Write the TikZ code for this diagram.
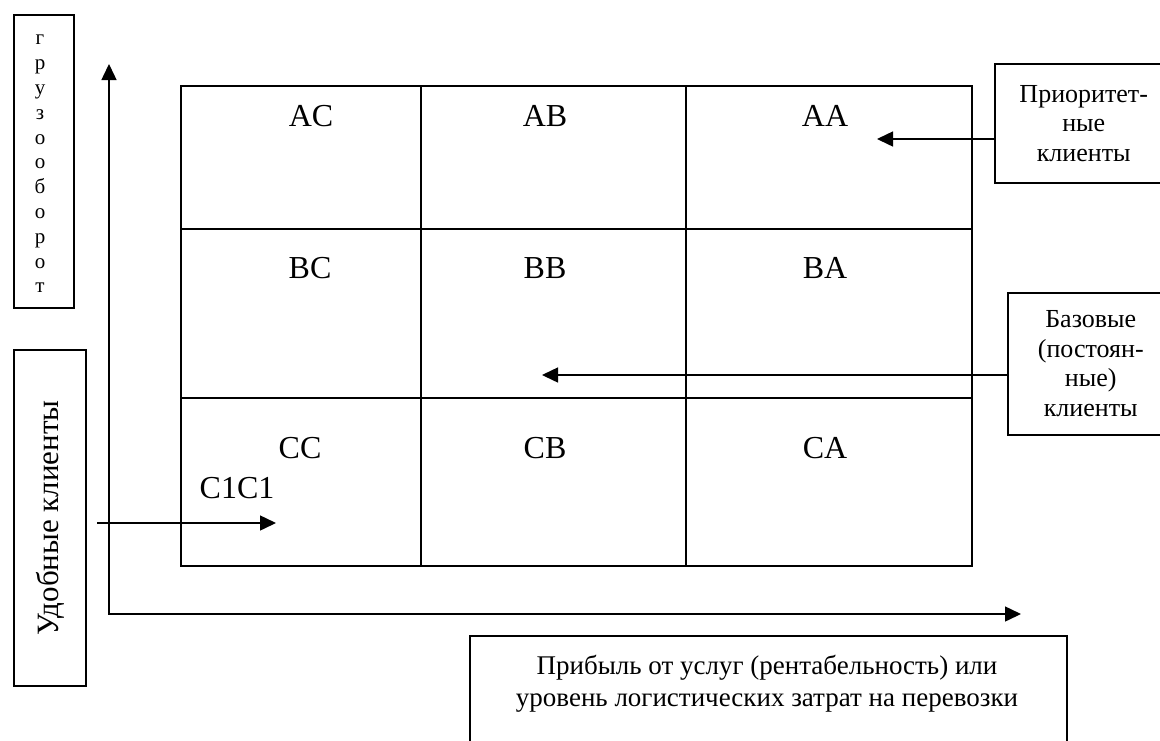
\documentclass[tikz,border=0pt]{standalone}
\usepackage{fontspec}
\setmainfont{Liberation Serif}
\usetikzlibrary{arrows.meta}
\begin{document}
\begin{tikzpicture}[x=1pt,y=-1pt,line width=1.5pt,
  tri/.tip={Triangle[length=16pt,width=15pt]},
  tip/.style={-tri},
  box/.style={draw,anchor=north west,inner sep=0pt},
  lbl/.style={font=\fontsize{32}{38}\selectfont,inner sep=0pt},
  side/.style={font=\fontsize{26}{29.5}\selectfont,align=center,inner sep=0pt}]
\useasboundingbox (0,0) rectangle (1160,740);
\fill[white] (0,0) rectangle (1160,740);
% left boxes
\node[box,minimum width=60pt,minimum height=293pt] (gb) at (13,14) {};
\node[inner sep=0pt,align=center,font=\fontsize{21}{24.8}\selectfont] (gt) at (40,164) {г\\р\\у\\з\\о\\о\\б\\о\\р\\о\\т};
\node[box,minimum width=72pt,minimum height=336pt] (ub) at (13,349) {};
\node[inner sep=0pt,rotate=90,font=\fontsize{31}{36}\selectfont] (ut) at (50,518) {Удобные клиенты};
% grid
\draw (181,86) rectangle (972,566);
\draw (421,86) -- (421,566) (686,86) -- (686,566);
\draw (181,229) -- (972,229) (181,398) -- (972,398);
\node[lbl] (ac) at (311,116) {AC};
\node[lbl] (ab) at (545,116) {AB};
\node[lbl] (aa) at (825,116) {AA};
\node[lbl] (bc) at (310,268) {BC};
\node[lbl] (bb) at (545,268) {BB};
\node[lbl] (ba) at (825,268) {BA};
\node[lbl] (cc) at (300,448) {CC};
\node[lbl] (cb) at (545,448) {CB};
\node[lbl] (ca) at (825,448) {CA};
\node[lbl] (c1) at (237,488) {C1C1};
% axes
\coordinate (ytip) at (109,64);
\coordinate (orig) at (109,614);
\coordinate (xtip) at (1021,614);
\draw[tri-tri] (ytip) -- (orig) -- (xtip);
% right boxes
\node[box,minimum width=178pt,minimum height=119pt,side] (pb) at (994,63) {Приоритет-\\ные\\клиенты};
\node[box,minimum width=166pt,minimum height=142pt,side] (bz) at (1007,292) {Базовые\\(постоян-\\ные)\\клиенты};
% bottom box
\node[box,minimum width=597pt,minimum height=140pt] (pr) at (469,635) {};
\node[inner sep=0pt,align=center,font=\fontsize{27}{32}\selectfont] (prt) at (767,684) {Прибыль от услуг (рентабельность) или\\уровень логистических затрат на перевозки};
% arrows
\coordinate (aaT) at (877,139);
\draw[tip] (pb.west |- aaT) -- (aaT);
\coordinate (bbT) at (542,375);
\draw[tip] (bz.west |- bbT) -- (bbT);
\coordinate (cS) at (97,523);
\coordinate (cT) at (276,523);
\draw[tip] (cS) -- (cT);
\end{tikzpicture}
\end{document}
